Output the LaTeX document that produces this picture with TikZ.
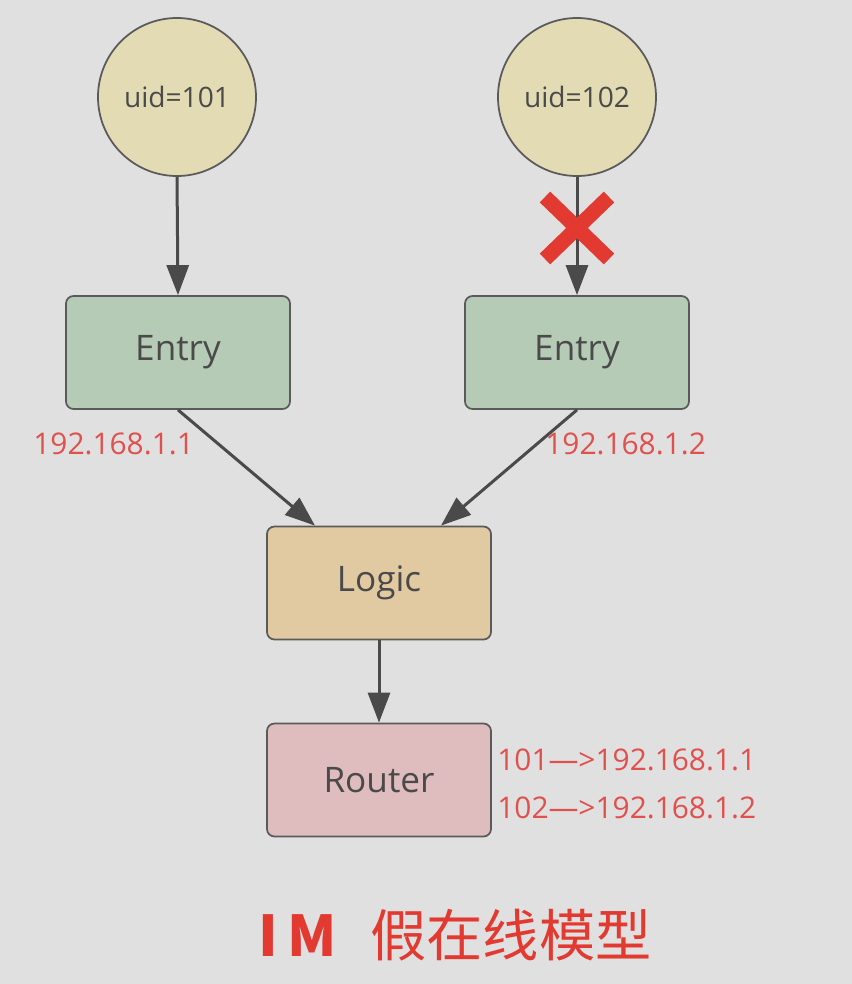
\documentclass[tikz,border=0pt]{standalone}
\usepackage{fontspec}
\setmainfont{Open Sans}
\newfontfamily\cjkfont{Noto Sans CJK SC}
\usepackage{xcolor}
\usepackage{tikz}
\usetikzlibrary{shapes,arrows.meta,calc}
\definecolor{bgGray}{HTML}{E0E0E0}
\definecolor{edgeGray}{HTML}{5A5A5A}
\definecolor{textGray}{HTML}{4A4A4A}
\definecolor{userFill}{HTML}{E2DBB4}
\definecolor{entryFill}{HTML}{B5CBB6}
\definecolor{logicFill}{HTML}{E1C9A2}
\definecolor{routerFill}{HTML}{DFBDBF}
\definecolor{labelRed}{HTML}{E0504C}
\definecolor{crossRed}{HTML}{E23A30}
\tikzstyle{tsText} = [
    text=textGray,
    font=\fontsize{20}{24}\selectfont
]
\tikzstyle{tsCircle} = [
    circle,
    draw=edgeGray,
    line width=0.35mm,
    fill=userFill,
    minimum size=3.16cm,
    text=textGray,
    font=\fontsize{16}{19}\selectfont
]
\tikzstyle{tsRoundedRectangle} = [
    rectangle,
    tsText,
    draw=edgeGray,
    line width=0.35mm,
    rounded corners=1.5mm,
    minimum width=4.48cm,
    minimum height=2.26cm
]
\tikzstyle{tsRedLabel} = [
    text=labelRed,
    font=\fontsize{17}{20}\selectfont,
    anchor=west,
    inner sep=0pt
]
\tikzstyle{tsArrow} = [
    draw=textGray,
    line width=0.6mm,
    -{Triangle[length=6mm,width=4.4mm]}
]

\begin{document}
\begin{tikzpicture}

        % Background and picture size
        \fill[bgGray] (0,0) rectangle (17.04,-19.68);
        \useasboundingbox (0,0) rectangle (17.04,-19.68);

        % Users
        \node[tsCircle] (uidA) at (3.54,-1.94) {uid=101};
        \node[tsCircle] (uidB) at (11.54,-1.94) {uid=102};

        % Entry, logic and router boxes
        \node[tsRoundedRectangle, fill=entryFill] (entryA) at (3.56,-7.05) {Entry};
        \node[tsRoundedRectangle, fill=entryFill] (entryB) at (11.54,-7.05) {Entry};
        \node[tsRoundedRectangle, fill=logicFill] (logic) at (7.58,-11.66) {Logic};
        \node[tsRoundedRectangle, fill=routerFill] (router) at (7.58,-15.6) {Router};

        % Connecting arrows
        \draw[tsArrow] (uidA.south) -- (entryA.north);
        \draw[tsArrow] (uidB.south) -- (entryB.north);
        \draw[tsArrow] (entryA.south) -- ($(logic.north)+(-1.28,0)$);
        \draw[tsArrow] (entryB.south) -- ($(logic.north)+(1.24,0)$);
        \draw[tsArrow] (logic.south) -- (router.north);

        % Broken connection mark
        \coordinate (cross) at (11.54,-4.56);
        \draw[crossRed, line width=3mm]
        ($(cross)+(-0.64,0.62)$) -- ($(cross)+(0.64,-0.62)$)
        ($(cross)+(-0.64,-0.62)$) -- ($(cross)+(0.64,0.62)$);

        % Addresses
        \node[tsRedLabel] (ipA) at (0.66,-8.88) {192.168.1.1};
        \node[tsRedLabel] (ipB) at (10.9,-8.88) {192.168.1.2};
        \node[tsRedLabel] (routeA) at (9.94,-15.2) {101—>192.168.1.1};
        \node[tsRedLabel] (routeB) at (9.94,-16.16) {102—>192.168.1.2};

        % Title
        \node[text=crossRed, font=\cjkfont\fontsize{32}{36}\selectfont] (title) at (9.1,-18.7)
        {\textbf{I\,M}\hspace{0.6em}假在线模型};

\end{tikzpicture}
\end{document}
